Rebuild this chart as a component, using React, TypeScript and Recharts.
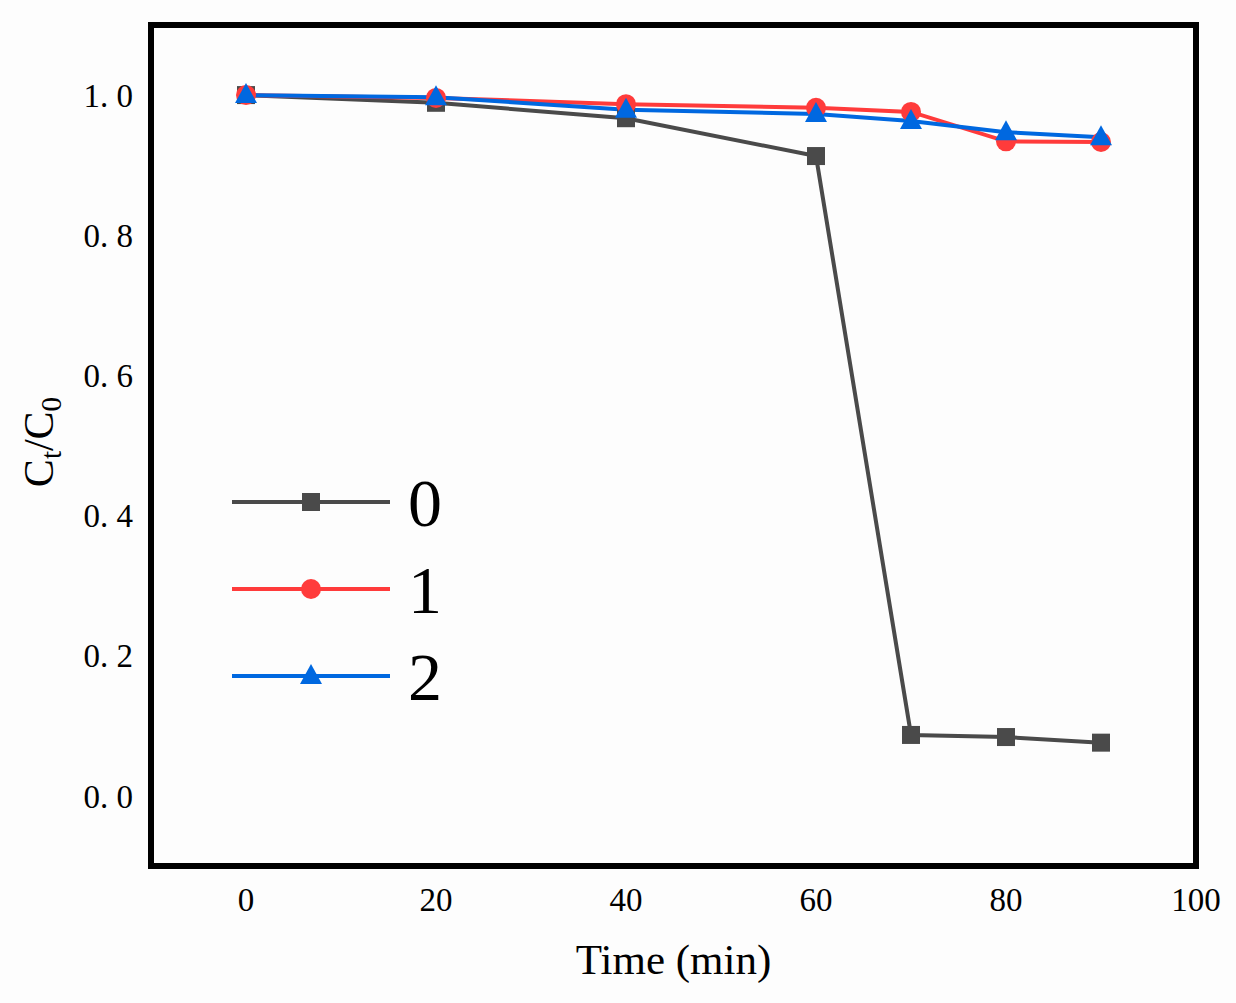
import React from "react"
import { LineChart, Line, XAxis, YAxis, ReferenceArea } from "recharts"

// ─── Data ────────────────────────────────────────────────────────────────────

const times = [0, 20, 40, 60, 70, 80, 90]
const series0 = [1.0, 0.989, 0.967, 0.913, 0.087, 0.084, 0.076]
const series1 = [1.0, 0.996, 0.987, 0.982, 0.976, 0.934, 0.933]
const series2 = [1.0, 0.997, 0.979, 0.973, 0.963, 0.947, 0.94]
const seriesNames = ["0", "1", "2"]
const xTicks = [0, 20, 40, 60, 80, 100]
const yTicks = [0, 0.2, 0.4, 0.6, 0.8, 1.0]

const data = times.map((t, i) => ({
  t,
  s0: series0[i],
  s1: series1[i],
  s2: series2[i],
}))

const GRAY = "#4a4a4a"
const RED = "#ff3b3b"
const BLUE = "#0068e0"
const colors = [GRAY, RED, BLUE]
const FONT = "'Liberation Serif', 'Times New Roman', serif"

// ─── Markers ─────────────────────────────────────────────────────────────────

function Marker({ kind, cx, cy, color }: { kind: number; cx: number; cy: number; color: string }) {
  if (kind === 0) return <rect x={cx - 9} y={cy - 9} width={18} height={18} fill={color} />
  if (kind === 1) return <circle cx={cx} cy={cy} r={10} fill={color} />
  return <polygon points={`${cx},${cy - 12} ${cx - 11},${cy + 8} ${cx + 11},${cy + 8}`} fill={color} />
}

const dotFor = (kind: number, color: string) => (props: any) => {
  const { cx, cy, index } = props
  if (cx == null || cy == null) return <g key={index} />
  return <Marker key={index} kind={kind} cx={cx} cy={cy} color={color} />
}

// legend drawn on top of the plot, like the original
function LegendBox() {
  return (
    <svg width={260} height={300} style={{ position: "absolute", left: 228, top: 442 }}>
      {seriesNames.map((name, i) => {
        const y = 60 + i * 87
        return (
          <g key={name}>
            <line x1={4} x2={162} y1={y} y2={y} stroke={colors[i]} strokeWidth={4} />
            <Marker kind={i} cx={83} cy={y} color={colors[i]} />
            <text x={180} y={y + 24} fontSize={68} fontFamily={FONT} fill="#000">
              {name}
            </text>
          </g>
        )
      })}
    </svg>
  )
}

function YLabel() {
  return (
    <text
      transform="translate(53, 442) rotate(-90)"
      textAnchor="middle"
      fontFamily={FONT}
      fontSize={42}
      fill="#000"
    >
      C<tspan fontSize={29} dy={8}>t</tspan>
      <tspan dy={-8}>/C</tspan>
      <tspan fontSize={29} dy={8}>0</tspan>
    </text>
  )
}

function XLabel() {
  return (
    <text x={673.5} y={974} textAnchor="middle" fontFamily={FONT} fontSize={43} fill="#000">
      Time (min)
    </text>
  )
}

export default function App() {
  return (
    <div style={{ position: "fixed", left: 0, top: 0, width: 1236, height: 1003, background: "#fdfdfd" }}>
      <LineChart width={1236} height={1003} data={data} margin={{ top: 25, right: 40, bottom: 0, left: 0 }}>
        <ReferenceArea
          x1={-10}
          x2={100}
          y1={-0.1}
          y2={1.1}
          fill="none"
          stroke="#000"
          strokeWidth={6}
          ifOverflow="visible"
        />
        <XAxis
          dataKey="t"
          type="number"
          domain={[-10, 100]}
          ticks={xTicks}
          axisLine={false}
          tickLine={false}
          tickSize={0}
          tickMargin={22}
          height={137}
          tick={{ fontSize: 33, fontFamily: FONT, fill: "#000" }}
          label={{ content: () => <XLabel /> }}
        />
        <YAxis
          type="number"
          domain={[-0.1, 1.1]}
          ticks={yTicks}
          axisLine={false}
          tickLine={false}
          tickSize={0}
          tickMargin={18}
          width={151}
          tickFormatter={(v: number) => v.toFixed(1).replace(".", ". ")}
          tick={{ fontSize: 33, fontFamily: FONT, fill: "#000" }}
          label={{ content: () => <YLabel /> }}
        />
        <Line dataKey="s0" name="0" stroke={GRAY} strokeWidth={4} dot={dotFor(0, GRAY)} isAnimationActive={false} />
        <Line dataKey="s1" name="1" stroke={RED} strokeWidth={4} dot={dotFor(1, RED)} isAnimationActive={false} />
        <Line dataKey="s2" name="2" stroke={BLUE} strokeWidth={4} dot={dotFor(2, BLUE)} isAnimationActive={false} />
      </LineChart>
      <LegendBox />
    </div>
  )
}
